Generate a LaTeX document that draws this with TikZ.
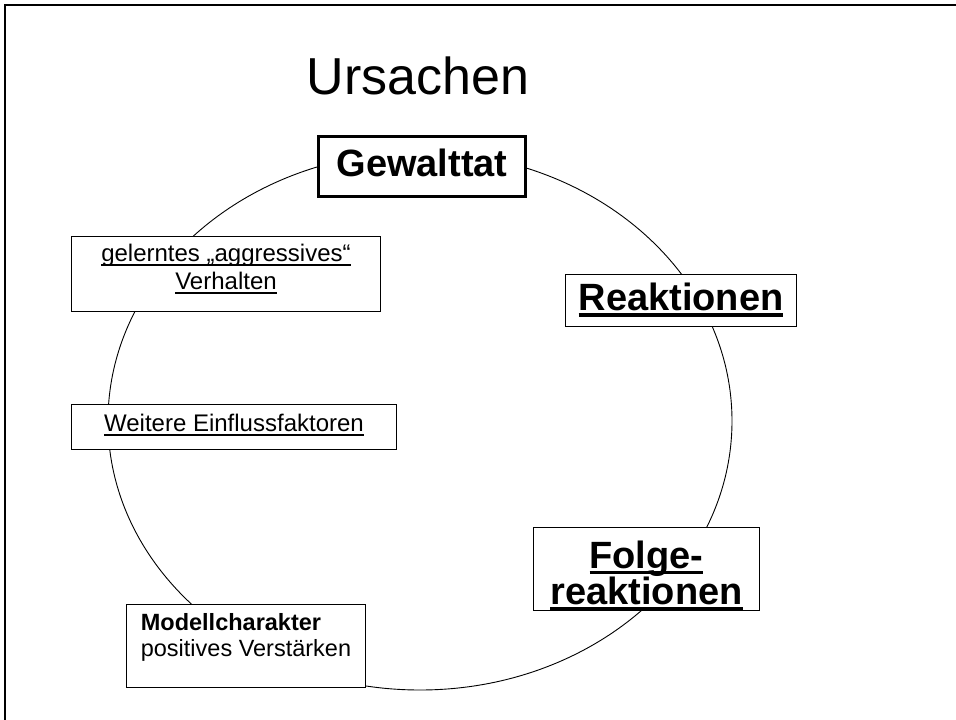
\documentclass[tikz,border=0pt]{standalone}
\usepackage{fontspec}
\setmainfont{Liberation Sans}
\newcommand{\myul}[1]{\setbox0\hbox{#1}\rlap{\rule[-0.19em]{\wd0}{0.07em}}\box0}
\newcommand{\myulb}[1]{\setbox0\hbox{#1}\rlap{\rule[-0.16em]{\wd0}{0.085em}}\box0}
\tikzset{
  box/.style={draw, fill=white, line width=1.3pt, inner sep=0pt},
  small/.style={font=\fontsize{24}{28}\selectfont},
  big/.style={font=\fontsize{38}{29}\selectfont\bfseries},
}
\begin{document}
\begin{tikzpicture}[x=1pt,y=-1pt]
\useasboundingbox (0,0) rectangle (956,720);
\draw[line width=2.2pt] (5,720) -- (5,5) -- (956,5);
\node[font=\fontsize{52}{60}\selectfont, anchor=base, inner sep=0pt] (ursachen) at (418,94) {Ursachen};
\draw[line width=0.9pt] (420,421) ellipse [x radius=312, y radius=269];
\node[box, line width=3pt, minimum width=207pt, minimum height=60pt, big, text height=19pt, text depth=0pt] (gewalttat) at (422,166.5) {Gewalttat};
\node[box, minimum width=231pt, minimum height=52pt, big, text height=20pt, text depth=0pt] (reaktionen) at (681,300.5) {\myulb{Reaktionen}};
\node[box, minimum width=309pt, minimum height=75pt, small, text height=0pt, text depth=26pt] (gelernt) at (226,274) {\begin{tabular}[t]{@{}c@{}}\myul{gelerntes „aggressives“}\\ \myul{Verhalten}\end{tabular}};
\node[box, minimum width=325pt, minimum height=45pt, small, text height=9pt, text depth=0pt] (weitere) at (234,427) {\myul{Weitere Einflussfaktoren}};
\node[box, minimum width=226pt, minimum height=83pt, big, text height=0pt, text depth=2pt] (folge) at (646.5,569) {\begin{tabular}[t]{@{}c@{}}\myulb{Folge-}\\ \myulb{reaktionen}\end{tabular}};
\node[box, minimum width=239pt, minimum height=83pt, font=\fontsize{23.5}{26}\selectfont, text height=0pt, text depth=32pt] (modell) at (246,646) {\begin{tabular}[t]{@{}l@{}}\textbf{Modellcharakter}\\ positives Verstärken\end{tabular}};
\end{tikzpicture}
\end{document}
